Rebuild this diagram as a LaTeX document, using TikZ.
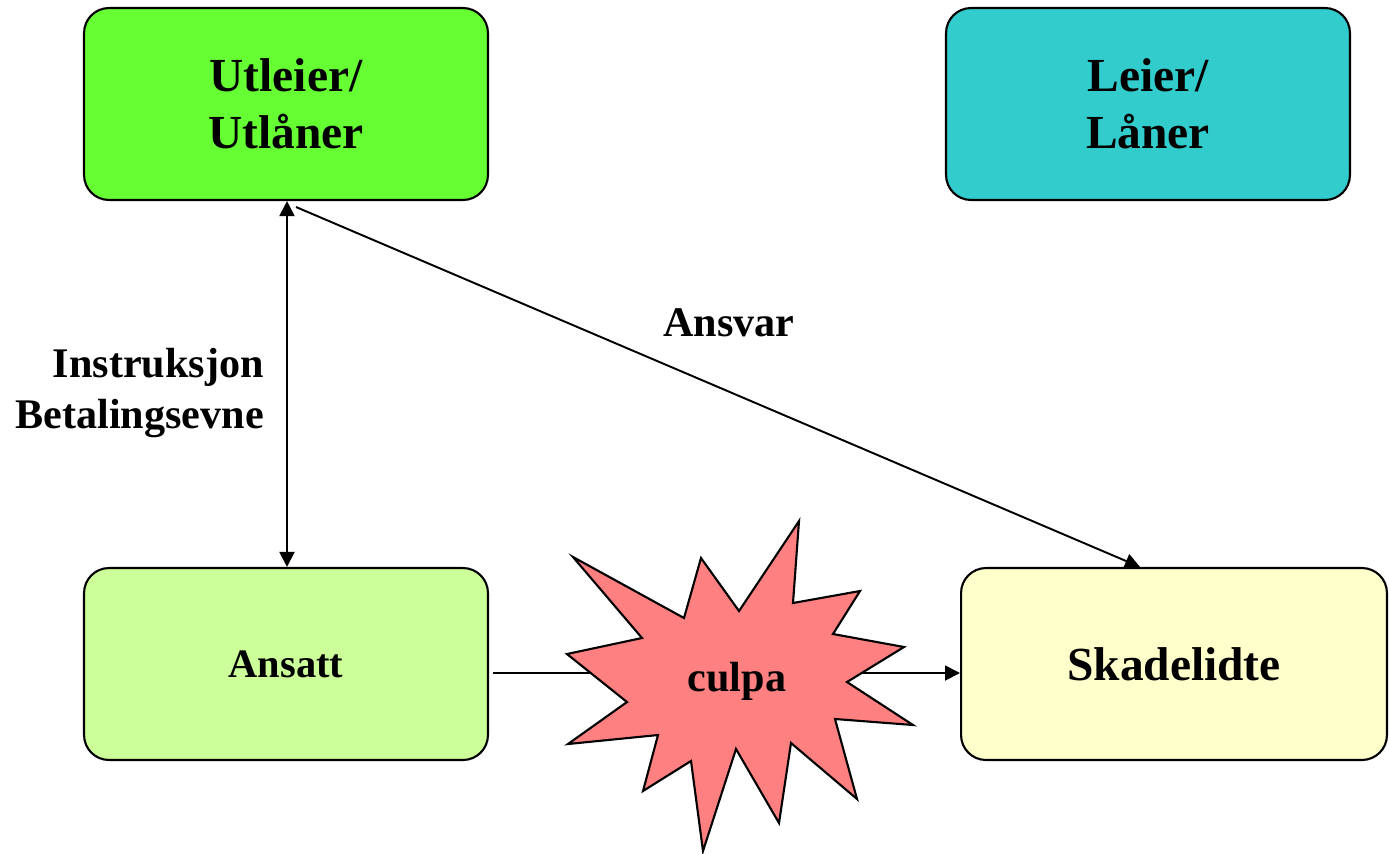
\documentclass[tikz,border=0pt]{standalone}
\usepackage{fontspec}
\setmainfont{Liberation Serif}
\usepackage{xcolor}
\usepackage{tikz}
\usetikzlibrary{positioning,arrows.meta,calc}

\definecolor{utleiergreen}{HTML}{66FF33}
\definecolor{leierteal}{HTML}{33CCCC}
\definecolor{ansattgreen}{HTML}{CCFF99}
\definecolor{skadeyellow}{HTML}{FFFFCC}
\definecolor{culpared}{HTML}{FF8080}

\begin{document}
\begin{tikzpicture}[x=0.02cm, y=-0.02cm,
  party/.style={draw=black, line width=1.2pt, rounded corners=0.5cm,
                minimum width=8.08cm, minimum height=3.84cm, align=center,
                font=\fontsize{27}{32.4}\selectfont\bfseries},
  relation/.style={line width=1.1pt, -{Triangle[length=0.3cm,width=0.3cm]}},
  tag/.style={font=\fontsize{24}{28.8}\selectfont\bfseries}]
  \useasboundingbox (0,0) rectangle (1389,853);

  % Parties
  \node[party, fill=utleiergreen] (utleier) at (286,104) {Utleier/\\Utlåner};
  \node[party, fill=leierteal] (leier) at (1148,104) {Leier/\\Låner};
  \node[party, fill=ansattgreen, font=\fontsize{23}{27.6}\selectfont\bfseries]
    (ansatt) at (286,664) {Ansatt};
  \node[party, fill=skadeyellow, minimum width=8.52cm] (skade) at (1174,664) {Skadelidte};

  % Relations
  \draw[relation, {Triangle[length=0.3cm,width=0.3cm]}-{Triangle[length=0.3cm,width=0.3cm]}]
    ([xshift=0.02cm]utleier.south) -- ([xshift=0.02cm]ansatt.north);
  \coordinate (ansvarstart) at (296,207);
  \draw[relation] (ansvarstart) -- ([xshift=-0.68cm]skade.north);
  \coordinate (culpastart) at (493,673);
  \draw[relation] (culpastart) -- (culpastart -| skade.west);

  % Culpa star
  \filldraw[fill=culpared, draw=black, line width=1.2pt, line join=miter]
    (799,521) \foreach \p in {(793,603), (860,591), (833,634), (904,647), (847,682),
                              (913,725), (835,719), (857,799), (791,743), (779,823),
                              (736,749), (703,851), (691,761), (643,791), (658,735),
                              (568,744), (627,702), (567,654), (642,638), (573,557),
                              (684,618), (701,558), (739,611)} { -- \p } -- cycle;
  \node[tag] (culpa) at (737,681) {culpa};

  % Labels
  \node[tag] (ansvar) at (729,323) {Ansvar};
  \node[tag, align=right, anchor=east] (instruks) at (270,393)
    {Instruksjon\\Betalingsevne};
\end{tikzpicture}
\end{document}
